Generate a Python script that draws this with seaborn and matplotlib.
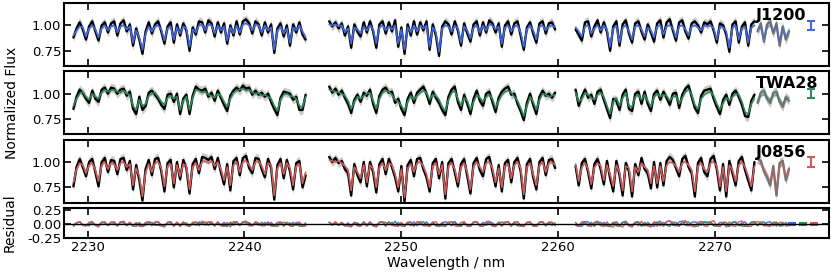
import numpy as np
import matplotlib
matplotlib.use("Agg")
import matplotlib.pyplot as plt
from matplotlib.ticker import FormatStrFormatter
import seaborn as sns

# wavelength sampling of the three detector chunks (nm)
wl_start = [2229.1, 2245.4, 2261.1]
wl_step = 0.2
mask_from = 2272.6

targets = ["J1200", "TWA28", "J0856"]
colors = ["#4169e1", "#2e8b57", "#cd5c5c"]
flux_err = [0.045, 0.045, 0.045]
median_err = [0.045, 0.045, 0.045]
resid_err = [0.02, 0.02, 0.02]
resid_bar_x = [2274.9, 2275.6, 2276.3]

# normalized flux x100, one list per chunk
j1200_data = [
    [88, 97, 103, 96, 86, 99, 104, 94, 85, 100,
     103, 93, 102, 104, 90, 102, 105, 94, 101, 80,
     97, 86, 72, 94, 103, 92, 101, 104, 94, 82,
     99, 103, 83, 101, 90, 102, 95, 75, 98, 91,
     104, 103, 93, 105, 102, 89, 103, 93, 102, 82,
     100, 90, 104, 91, 104, 106, 102, 92, 104, 101,
     90, 103, 93, 101, 73, 97, 102, 89, 100, 80,
     101, 93, 103, 91, 86],
    [104, 99, 103, 97, 102, 90, 99, 78, 101, 94,
     89, 103, 93, 104, 94, 78, 101, 104, 92, 103,
     94, 105, 79, 98, 72, 101, 90, 104, 91, 103,
     95, 104, 76, 101, 90, 70, 99, 104, 101, 91,
     104, 95, 80, 102, 92, 84, 101, 104, 90, 103,
     93, 105, 102, 93, 102, 79, 100, 104, 91, 102,
     104, 90, 76, 98, 103, 92, 83, 102, 104, 92,
     102, 103, 96],
    [96, 91, 85, 103, 104, 89, 99, 105, 93, 103,
     94, 75, 99, 104, 80, 101, 105, 92, 83, 102,
     104, 94, 86, 101, 93, 84, 102, 105, 88, 103,
     106, 95, 85, 103, 105, 94, 87, 102, 104, 100,
     93, 103, 101, 104, 95, 83, 102, 100, 91, 74,
     101, 104, 83, 99, 103, 80, 101, 104, 94, 102,
     84, 101, 104, 92, 102, 80, 99, 86, 94],
]
j1200_model = [
    [90, 95, 99, 98, 89, 97, 100, 96, 88, 97,
     100, 95, 99, 100, 93, 99, 100, 96, 99, 83,
     95, 88, 76, 92, 99, 94, 99, 100, 96, 85,
     97, 99, 86, 98, 92, 99, 97, 79, 96, 93,
     100, 101, 95, 101, 100, 92, 100, 95, 99, 85,
     98, 92, 100, 93, 101, 102, 100, 95, 101, 100,
     93, 100, 95, 98, 76, 95, 99, 92, 97, 83,
     98, 95, 100, 94, 88],
    [101, 100, 101, 99, 100, 93, 97, 82, 98, 96,
     92, 99, 95, 100, 96, 82, 98, 100, 95, 99,
     96, 100, 82, 96, 76, 98, 93, 100, 94, 100,
     97, 100, 79, 98, 93, 74, 97, 100, 99, 94,
     100, 97, 83, 99, 95, 87, 98, 100, 93, 100,
     95, 101, 100, 96, 99, 82, 98, 100, 94, 99,
     100, 93, 79, 96, 100, 95, 86, 99, 100, 95,
     99, 100, 98],
    [98, 94, 89, 99, 100, 92, 97, 100, 95, 100,
     96, 79, 97, 100, 83, 98, 100, 94, 86, 99,
     100, 96, 89, 98, 95, 88, 99, 100, 91, 99,
     100, 97, 88, 99, 100, 96, 90, 99, 100, 98,
     95, 100, 99, 100, 97, 86, 99, 98, 94, 78,
     98, 100, 86, 97, 99, 83, 98, 100, 96, 99,
     86, 98, 100, 95, 99, 83, 97, 89, 96],
]
twa28_data = [
    [85, 97, 104, 101, 95, 91, 103, 95, 92, 104,
     106, 100, 106, 105, 100, 104, 105, 98, 102, 85,
     80, 97, 84, 88, 101, 103, 99, 95, 89, 85,
     99, 100, 92, 100, 80, 95, 99, 80, 98, 107,
     104, 103, 105, 97, 101, 93, 103, 96, 89, 83,
     98, 103, 106, 103, 108, 105, 106, 99, 103, 99,
     101, 97, 100, 92, 85, 79, 96, 102, 101, 100,
     94, 97, 84, 84, 99],
    [107, 101, 105, 99, 103, 96, 90, 81, 94, 99,
     92, 101, 98, 104, 90, 81, 98, 104, 106, 101,
     102, 91, 95, 85, 79, 95, 101, 91, 101, 104,
     107, 100, 90, 102, 96, 91, 84, 79, 97, 104,
     107, 92, 84, 99, 90, 80, 95, 103, 93, 88,
     100, 102, 92, 82, 96, 102, 105, 107, 99, 100,
     90, 83, 74, 91, 100, 89, 80, 97, 103, 98,
     100, 96, 101],
    [104, 88, 97, 104, 96, 99, 90, 102, 104, 94,
     85, 76, 95, 93, 84, 99, 104, 85, 83, 100,
     102, 90, 102, 90, 83, 100, 103, 94, 102, 96,
     89, 100, 101, 86, 99, 105, 108, 97, 86, 81,
     98, 103, 104, 105, 95, 87, 80, 94, 99, 89,
     100, 103, 97, 89, 78, 77, 93, 99, 91, 101,
     103, 95, 91, 101, 102, 92, 87, 97, 93],
]
twa28_model = [
    [88, 95, 100, 102, 97, 94, 100, 97, 95, 101,
     104, 102, 103, 104, 102, 101, 103, 100, 99, 88,
     84, 94, 88, 90, 98, 100, 101, 97, 92, 89,
     96, 98, 95, 97, 84, 93, 97, 84, 96, 104,
     103, 101, 102, 99, 98, 96, 100, 98, 92, 87,
     95, 101, 103, 104, 105, 103, 104, 101, 100, 101,
     98, 99, 97, 95, 88, 83, 94, 99, 100, 98,
     97, 95, 88, 87, 97],
    [104, 103, 102, 101, 100, 98, 93, 85, 92, 97,
     95, 98, 100, 101, 93, 85, 95, 101, 103, 102,
     99, 94, 92, 88, 83, 92, 98, 94, 98, 101,
     103, 101, 94, 99, 98, 94, 87, 83, 94, 101,
     103, 95, 88, 96, 93, 84, 92, 99, 96, 92,
     97, 99, 95, 86, 93, 99, 102, 103, 101, 97,
     93, 86, 78, 88, 97, 92, 84, 94, 100, 99,
     97, 98, 99],
    [101, 92, 95, 101, 99, 96, 94, 99, 101, 97,
     88, 80, 92, 96, 88, 96, 101, 88, 87, 97,
     99, 94, 99, 93, 87, 97, 100, 97, 99, 98,
     93, 97, 98, 90, 96, 102, 104, 99, 89, 85,
     95, 99, 101, 102, 98, 90, 84, 91, 96, 93,
     97, 100, 99, 92, 82, 80, 90, 96, 94, 98,
     99, 97, 94, 98, 99, 95, 90, 94, 96],
]
j0856_data = [
    [76, 95, 103, 95, 86, 100, 103, 90, 76, 100,
     104, 90, 102, 101, 88, 103, 104, 92, 101, 73,
     97, 82, 62, 93, 102, 87, 103, 104, 91, 71,
     99, 102, 75, 100, 83, 102, 94, 69, 98, 103,
     89, 105, 104, 102, 105, 93, 104, 90, 78, 98,
     72, 101, 104, 87, 104, 106, 94, 89, 104, 103,
     93, 85, 103, 94, 63, 97, 103, 84, 102, 91,
     73, 99, 101, 75, 87],
    [105, 100, 104, 99, 101, 93, 89, 67, 98, 87,
     80, 100, 76, 100, 90, 70, 98, 103, 88, 103,
     95, 85, 71, 96, 61, 97, 102, 86, 103, 104,
     93, 85, 71, 99, 103, 84, 100, 64, 99, 103,
     90, 76, 98, 103, 86, 69, 99, 104, 92, 86,
     103, 105, 91, 76, 97, 71, 99, 102, 80, 100,
     104, 91, 64, 98, 103, 85, 73, 100, 104, 87,
     102, 103, 94],
    [96, 77, 99, 103, 90, 74, 98, 103, 93, 78,
     101, 84, 71, 101, 87, 67, 99, 91, 66, 98,
     87, 104, 93, 89, 74, 100, 75, 99, 77, 101,
     105, 102, 94, 86, 103, 106, 95, 89, 66, 99,
     104, 90, 86, 103, 106, 93, 72, 98, 66, 101,
     89, 77, 101, 105, 92, 82, 72, 100, 103, 101,
     91, 85, 77, 96, 67, 99, 101, 82, 93],
]
j0856_model = [
    [80, 93, 99, 97, 89, 97, 99, 92, 81, 97,
     100, 93, 99, 98, 92, 99, 100, 95, 98, 77,
     94, 86, 66, 90, 98, 90, 99, 100, 94, 76,
     96, 98, 79, 97, 86, 98, 96, 73, 95, 99,
     92, 100, 101, 99, 101, 96, 100, 93, 82, 95,
     77, 97, 100, 90, 100, 101, 97, 92, 100, 101,
     96, 88, 99, 97, 67, 94, 99, 88, 99, 94,
     77, 96, 98, 79, 90],
    [102, 101, 100, 101, 99, 96, 92, 72, 95, 90,
     84, 97, 80, 97, 93, 75, 95, 99, 92, 99,
     97, 88, 75, 93, 65, 94, 98, 90, 99, 100,
     96, 88, 75, 96, 99, 88, 97, 68, 96, 99,
     93, 80, 95, 99, 90, 73, 96, 100, 95, 90,
     99, 100, 94, 80, 94, 75, 96, 98, 84, 97,
     100, 94, 68, 95, 99, 88, 77, 97, 100, 90,
     99, 100, 97],
    [98, 81, 95, 99, 93, 78, 95, 99, 96, 82,
     97, 88, 76, 97, 90, 72, 96, 94, 71, 95,
     90, 99, 95, 92, 79, 96, 79, 96, 81, 97,
     100, 99, 96, 90, 99, 100, 97, 92, 71, 96,
     99, 93, 90, 99, 100, 96, 76, 95, 71, 97,
     92, 81, 97, 100, 95, 86, 76, 96, 99, 98,
     94, 88, 81, 93, 71, 96, 98, 85, 95],
]

data = [j1200_data, twa28_data, j0856_data]
model = [j1200_model, twa28_model, j0856_model]

sns.set_theme(style="ticks")
plt.rcParams["font.family"] = ["DejaVu Sans"]
plt.rcParams["axes.linewidth"] = 1.5
for key in ["text.color", "axes.labelcolor", "xtick.color", "ytick.color", "axes.edgecolor"]:
    plt.rcParams[key] = "black"

fig = plt.figure(figsize=(8.31, 2.76), dpi=100)
gs = fig.add_gridspec(4, 1, height_ratios=[63, 63, 63, 30.5], hspace=0.097,
                      left=0.077, right=0.9976, top=0.989, bottom=0.136)
axes = [fig.add_subplot(gs[0])]
for i in range(1, 4):
    axes.append(fig.add_subplot(gs[i], sharex=axes[0]))

rax = axes[3]
for k, (name, col) in enumerate(zip(targets, colors)):
    ax = axes[k]
    for s in range(3):
        d = np.array(data[k][s]) / 100
        m = np.array(model[k][s]) / 100
        wl = wl_start[s] + wl_step * np.arange(len(d))
        good = wl <= mask_from + 1e-6
        bad = wl >= mask_from - 1e-6
        # masked part drawn faded
        for sel, dcol, band, alpha in [(good, "black", "0.55", 1.0),
                                       (bad, "0.45", "0.5", 0.5)]:
            if sel.sum() < 2:
                continue
            ax.fill_between(wl[sel], d[sel] - flux_err[k], d[sel] + flux_err[k],
                            color=band, alpha=0.45, lw=0)
            sns.lineplot(x=wl[sel], y=d[sel], color=dcol, lw=1.7, ax=ax,
                         estimator=None, sort=False)
            sns.lineplot(x=wl[sel], y=m[sel], color=col, lw=1.2, alpha=alpha,
                         ax=ax, estimator=None, sort=False)
        sns.lineplot(x=wl, y=d - m, color=col, lw=1.1, alpha=0.9, ax=rax,
                     estimator=None, sort=False)

    ax.errorbar([2276.1], [1.0], yerr=[median_err[k]], fmt="none", ecolor=col,
                elinewidth=1.5, capsize=3, capthick=1.5)
    ax.text(0.905, 0.80, name, transform=ax.transAxes, ha="left", va="center",
            fontsize=11.5, fontweight="bold")
    ax.set_ylim(0.60, 1.22)
    ax.set_yticks([0.75, 1.00])
    ax.yaxis.set_major_formatter(FormatStrFormatter("%.2f"))
    ax.tick_params(labelbottom=False)

    rax.errorbar([resid_bar_x[k]], [0.0], yerr=[resid_err[k]], fmt="none",
                 ecolor=col, elinewidth=1.5, capsize=3, capthick=1.5)

rax.axhline(0, color="black", lw=1.0)
rax.set_ylim(-0.25, 0.28)
rax.set_yticks([-0.25, 0.0, 0.25])
rax.yaxis.set_major_formatter(FormatStrFormatter("%.2f"))
rax.set_xlim(2228.5, 2277.25)
rax.set_xticks([2230, 2240, 2250, 2260, 2270])
rax.set_xlabel("Wavelength / nm", fontsize=10, labelpad=1)

for ax in axes:
    ax.set_ylabel("")
    ax.tick_params(direction="in", top=True, right=True, length=5, width=1.2,
                   labelsize=9.5, pad=2)
    for sp in ax.spines.values():
        sp.set_linewidth(1.5)
        sp.set_color("black")

fig.text(0.015, 0.627, "Normalized Flux", rotation=90, ha="center", va="center", fontsize=10)
fig.text(0.012, 0.192, "Residual", rotation=90, ha="center", va="center", fontsize=10)

fig.savefig("out.png", dpi=100)
